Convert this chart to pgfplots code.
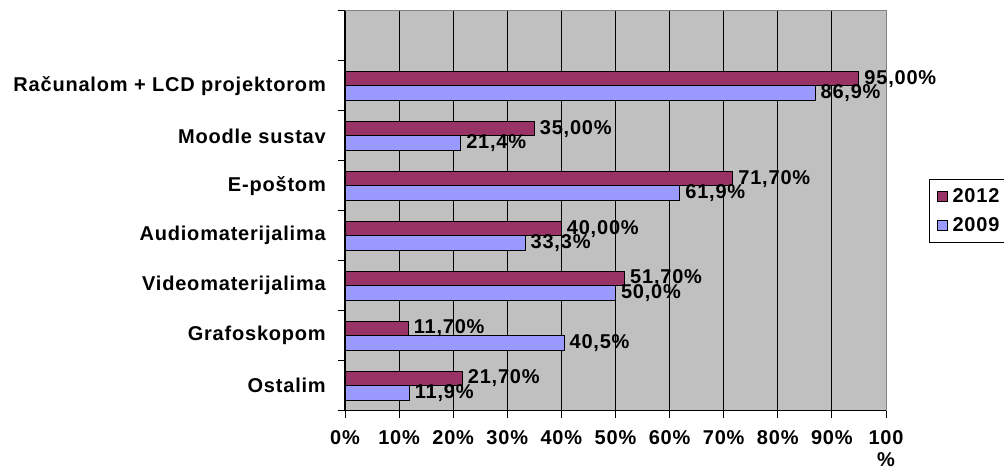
\documentclass[border=0pt]{standalone}
\usepackage{pgfplots}
\pgfplotsset{compat=1.18}
\usepackage{fontspec}
\setmainfont{Liberation Sans}[LetterSpace=4]
\definecolor{c2012}{HTML}{993366}
\definecolor{c2009}{HTML}{9999FF}
\definecolor{bgray}{HTML}{C0C0C0}
\definecolor{edgegray}{HTML}{808080}
\begin{document}
\begin{tikzpicture}
\useasboundingbox (0,0) rectangle (1004pt,470pt);
\begin{axis}[
    at={(345pt,59.3pt)}, anchor=south west,
    scale only axis, width=541pt, height=399.7pt,
    xbar, bar width=14.5pt, clip=false,
    xmin=0, xmax=100, ymin=-0.5, ymax=7.5,
    font=\fontsize{20}{22}\selectfont\bfseries,
    axis background/.style={fill=bgray, draw=edgegray, line width=1pt},
    axis x line*=bottom, axis y line*=left,
    axis line style={-, black, line width=1.3pt},
    tick align=outside, major tick length=7pt,
    tick style={black, line width=1pt},
    xtick={0,10,...,100},
    xticklabels={0\%,10\%,20\%,30\%,40\%,50\%,60\%,70\%,80\%,90\%,{100\\\%}},
    xticklabel style={align=center, inner sep=0pt, yshift=-13pt},
    extra x ticks={10,20,...,90},
    extra x tick labels={},
    extra x tick style={grid=major, major tick length=0pt},
    major grid style={black, line width=1pt},
    ytick={-0.5,0.5,...,7.5},
    yticklabels={},
    extra y ticks={0,1,...,6},
    extra y tick labels={Ostalim,Grafoskopom,Videomaterijalima,Audiomaterijalima,E-poštom,Moodle sustav,Računalom + LCD projektorom},
    extra y tick style={major tick length=0pt},
    yticklabel style={inner sep=0pt, xshift=-19pt},
    nodes near coords, point meta=explicit symbolic,
    every node near coord/.append style={font=\fontsize{20}{22}\selectfont\bfseries, anchor=west, inner sep=0pt, xshift=5pt},
    legend image code/.code={
        \draw[#1, line width=1pt] (3pt,-5pt) rectangle (13pt,5pt);
        \path[draw=none, fill=none] (0pt,0pt) -- (16pt,0pt);},
    legend style={at={(1.0795,0.5797)}, anchor=north west, draw=black, line width=1pt,
        font=\fontsize{20}{22}\selectfont\bfseries, inner xsep=5pt, inner ysep=7pt, row sep=10pt},
]
\addplot[fill=c2012, draw=black, line width=1pt, bar shift=7.25pt] coordinates {
    (21.7,0) [21,70\%]
    (11.7,1) [11,70\%]
    (51.7,2) [51,70\%]
    (40.0,3) [40,00\%]
    (71.7,4) [71,70\%]
    (35.0,5) [35,00\%]
    (95.0,6) [95,00\%]
};
\addplot[fill=c2009, draw=black, line width=1pt, bar shift=-7.25pt] coordinates {
    (11.9,0) [11,9\%]
    (40.5,1) [40,5\%]
    (50.0,2) [50,0\%]
    (33.3,3) [33,3\%]
    (61.9,4) [61,9\%]
    (21.4,5) [21,4\%]
    (86.9,6) [86,9\%]
};
\legend{2012,2009}
\end{axis}
\end{tikzpicture}
\end{document}
